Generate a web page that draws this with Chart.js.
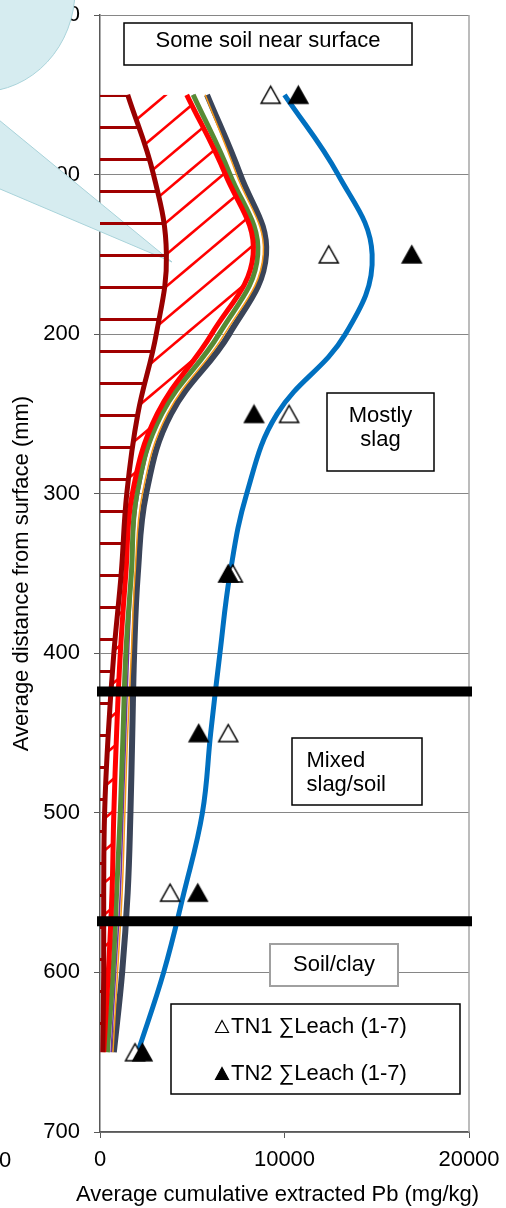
<!DOCTYPE html>
<html>
<head>
<meta charset="utf-8">
<script src="https://cdn.jsdelivr.net/npm/chart.js@4/dist/chart.umd.min.js"></script>
<style>
    html, body { margin: 0; padding: 0; background: #fff; }
    #grafico { display: block; }
</style>
</head>
<body>
<canvas id="grafico" width="506" height="1208"></canvas>
<script>
// Profundidades (mm) das curvas suavizadas
const curveDepths = [50, 100, 150, 200, 250, 300, 350, 400, 450, 500, 550, 600, 650];

const darkRedPb = [1500, 2900, 3600, 3050, 2050, 1450, 1150, 750, 450, 250, 200, 200, 150];
const redPb     = [4700, 6800, 8300, 6050, 3100, 1750, 1400, 1100, 900, 750, 650, 450, 200];
const greenPb   = [5050, 7050, 8550, 6450, 3350, 2000, 1700, 1400, 1250, 1100, 900, 700, 400];
const purplePb  = [5050, 7050, 8550, 6450, 3400, 2100, 1750, 1550, 1400, 1250, 1100, 850, 600];
const orangePb  = [5700, 7400, 8850, 6750, 3650, 2300, 1900, 1700, 1500, 1350, 1200, 950, 700];
const slatePb   = [5800, 7600, 9000, 7000, 3850, 2500, 2050, 1850, 1750, 1650, 1500, 1200, 750];
const bluePb    = [10000, 12900, 14750, 13300, 9600, 7950, 7050, 6500, 6000, 5550, 4550, 3450, 2050];

// Amostras TN1 / TN2
const sampleDepths = [50, 150, 250, 350, 450, 550, 650];
const tn1Leach = [9250, 12400, 10250, 7200, 6950, 3800, 1900];
const tn2Leach = [10750, 16900, 8350, 6950, 5350, 5300, 2300];
const tn1Label = 'TN1 \u2211Leach (1-7)';
const tn2Label = 'TN2 \u2211Leach (1-7)';

// Limites das camadas (mm)
const layerBoundaries = [424, 568];

const xRange = [0, 20000];
const yRange = [0, 700];
const xTitle = 'Average cumulative extracted Pb (mg/kg)';
const yTitle = 'Average distance from surface (mm)';

const FONT = '"Liberation Sans", Arial, sans-serif';

const canvas = document.getElementById('grafico');
const mainCtx = canvas.getContext('2d');

function toPoints(values, depths) {
    return values.map((v, i) => ({ x: v, y: depths[i] }));
}

/**
 * Padrão de linhas horizontais (área entre o eixo e a curva vermelho-escura).
 */
function horizontalHatch(color) {
    const tile = document.createElement('canvas');
    tile.width = 4;
    tile.height = 32;
    const t = tile.getContext('2d');
    t.fillStyle = color;
    t.fillRect(0, 30, 4, 2);
    t.fillRect(0, 0, 4, 1);
    return mainCtx.createPattern(tile, 'repeat');
}

/**
 * Padrão de linhas diagonais (área entre as curvas vermelho-escura e vermelha).
 */
function diagonalHatch(color) {
    const w = 38, h = 32, c0 = 10.5;
    const tile = document.createElement('canvas');
    tile.width = w;
    tile.height = h;
    const t = tile.getContext('2d');
    t.strokeStyle = color;
    t.lineWidth = 2.5;
    for (let k = -1; k <= 2; k++) {
        t.beginPath();
        t.moveTo(-2, c0 + k * h + 2 * h / w);
        t.lineTo(w + 2, c0 + k * h - (w + 2) * h / w);
        t.stroke();
    }
    return mainCtx.createPattern(tile, 'repeat');
}

function trianglePath(ctx, cx, cy, w, h) {
    ctx.beginPath();
    ctx.moveTo(cx, cy - h / 2);
    ctx.lineTo(cx + w / 2, cy + h / 2);
    ctx.lineTo(cx - w / 2, cy + h / 2);
    ctx.closePath();
}

function triangleMarker(w, h, filled) {
    const c = document.createElement('canvas');
    c.width = Math.ceil(w + 4);
    c.height = Math.ceil(h + 4);
    const ctx = c.getContext('2d');
    trianglePath(ctx, c.width / 2, c.height / 2, w, h);
    ctx.fillStyle = filled ? '#000' : '#fff';
    ctx.fill();
    ctx.lineWidth = 1.5;
    ctx.strokeStyle = '#000';
    ctx.stroke();
    return c;
}

const openTri = triangleMarker(19, 17, false);
const filledTri = triangleMarker(19, 17, true);

// Caixas de texto sobre o gráfico (pixels)
const notes = [
    { box: [124, 23, 288, 42], lines: ['Some soil near surface'], align: 'center', x: 268, base: 47, gap: 0, border: '#000' },
    { box: [327, 393, 107, 78], lines: ['Mostly', 'slag'], align: 'center', x: 380.5, base: 422, gap: 24, border: '#000' },
    { box: [292, 738, 130, 67], lines: ['Mixed', 'slag/soil'], align: 'left', x: 306.5, base: 767, gap: 23.5, border: '#000' },
    { box: [270, 944, 128, 42], lines: ['Soil/clay'], align: 'center', x: 334, base: 971, gap: 0, border: '#a0a0a0' }
];
const legendBox = [171, 1004, 289, 90];

const decorPlugin = {
    id: 'decor',
    beforeDatasetsDraw(chart) {
        const ctx = chart.ctx;
        const a = chart.chartArea;
        ctx.save();

        // borda direita da área de plotagem
        ctx.strokeStyle = '#a6a6a6';
        ctx.lineWidth = 1.5;
        ctx.beginPath();
        ctx.moveTo(a.right, a.top);
        ctx.lineTo(a.right, a.bottom);
        ctx.stroke();

        // balão (callout) azul claro
        ctx.fillStyle = '#d6ecf0';
        ctx.strokeStyle = '#a9d3da';
        ctx.lineWidth = 1;
        ctx.beginPath();
        ctx.ellipse(-20, -10, 95, 102, 0, 0, Math.PI * 2);
        ctx.fill();
        ctx.stroke();
        ctx.beginPath();
        ctx.moveTo(-40, 88);
        ctx.lineTo(172, 262);
        ctx.lineTo(-40, 172);
        ctx.closePath();
        ctx.fill();
        ctx.beginPath();
        ctx.moveTo(-40, 88);
        ctx.lineTo(172, 262);
        ctx.lineTo(-40, 172);
        ctx.stroke();
        ctx.restore();
    },
    afterDraw(chart) {
        const ctx = chart.ctx;
        const a = chart.chartArea;
        ctx.save();
        ctx.font = `22px ${FONT}`;
        ctx.textBaseline = 'alphabetic';

        // título do eixo X (sem compressão para a largura do eixo)
        ctx.fillStyle = '#000';
        ctx.textAlign = 'center';
        ctx.fillText(xTitle, (a.left + a.right) / 2 - 7, 1201);

        notes.forEach(n => {
            const [x, y, w, h] = n.box;
            ctx.fillStyle = '#fff';
            ctx.fillRect(x, y, w, h);
            ctx.strokeStyle = n.border;
            ctx.lineWidth = n.border === '#000' ? 1.5 : 2;
            ctx.strokeRect(x, y, w, h);
            ctx.fillStyle = '#000';
            ctx.textAlign = n.align;
            n.lines.forEach((t, i) => ctx.fillText(t, n.x, n.base + i * n.gap));
        });

        // legenda
        const [lx, ly, lw, lh] = legendBox;
        ctx.fillStyle = '#fff';
        ctx.fillRect(lx, ly, lw, lh);
        ctx.strokeStyle = '#000';
        ctx.lineWidth = 1.5;
        ctx.strokeRect(lx, ly, lw, lh);
        const rows = [
            { label: chart.data.datasets[7].label, filled: false, base: 1033 },
            { label: chart.data.datasets[8].label, filled: true, base: 1080 }
        ];
        rows.forEach(r => {
            trianglePath(ctx, 222, r.base - 6.5, 13, 12);
            ctx.fillStyle = r.filled ? '#000' : '#fff';
            ctx.fill();
            ctx.strokeStyle = '#000';
            ctx.lineWidth = 1.2;
            ctx.stroke();
            ctx.fillStyle = '#000';
            ctx.textAlign = 'left';
            ctx.fillText(r.label, 231, r.base);
        });

        // rótulo "0" do gráfico vizinho, cortado na margem
        ctx.fillText('0', -1, 1167);
        ctx.restore();
    }
};

function curve(label, values, color, width, order, extra) {
    return Object.assign({
        label: label,
        data: toPoints(values, curveDepths),
        borderColor: color,
        borderWidth: width,
        pointRadius: 0,
        tension: 0.4,
        fill: false,
        order: order
    }, extra || {});
}

function criarGrafico() {
    const datasets = [
        curve('Curve A', darkRedPb, '#990000', 5, 4, { fill: 'origin', backgroundColor: horizontalHatch('#a00000') }),
        curve('Curve B', redPb, '#ff0000', 5, 5, { fill: '-1', backgroundColor: diagonalHatch('#ff0000') }),
        curve('Curve C', greenPb, '#578a35', 5, 6),
        curve('Curve D', purplePb, '#7030a0', 1.5, 7),
        curve('Curve E', orangePb, '#f79a1a', 1.5, 8),
        curve('Curve F', slatePb, '#3a4458', 6, 9),
        curve('Curve G', bluePb, '#0070c0', 5, 3),
        {
            label: tn1Label,
            data: toPoints(tn1Leach, sampleDepths),
            showLine: false,
            pointStyle: openTri,
            pointRadius: 10,
            order: 2
        },
        {
            label: tn2Label,
            data: toPoints(tn2Leach, sampleDepths),
            showLine: false,
            pointStyle: filledTri,
            pointRadius: 10,
            order: 1
        }
    ];

    layerBoundaries.forEach(d => {
        datasets.push({
            label: 'Boundary ' + d,
            data: [{ x: xRange[0], y: d }, { x: xRange[1], y: d }],
            borderColor: '#000',
            borderWidth: 10,
            borderCapStyle: 'square',
            pointRadius: 0,
            tension: 0,
            fill: false,
            clip: 3,
            order: 0
        });
    });

    const tickFont = { family: FONT, size: 22 };

    new Chart(canvas, {
        type: 'line',
        data: { datasets: datasets },
        options: {
            indexAxis: 'y',
            responsive: false,
            animation: false,
            events: [],
            layout: { padding: { top: 15, right: 37, left: 0, bottom: 0 } },
            plugins: {
                legend: { display: false },
                tooltip: { enabled: false }
            },
            scales: {
                x: {
                    type: 'linear',
                    position: 'bottom',
                    min: xRange[0],
                    max: xRange[1],
                    ticks: { stepSize: 10000, padding: 9, color: '#000', font: tickFont, maxRotation: 0, callback: v => String(v) },
                    grid: { drawOnChartArea: false, tickLength: 6, tickColor: '#595959' },
                    border: { color: '#595959', width: 1.5 },
                    title: { display: false },
                    afterFit: s => {
                        s.height = 76;
                        s.paddingLeft = 0;
                        s.paddingRight = 0;
                    }
                },
                y: {
                    type: 'linear',
                    position: 'left',
                    reverse: true,
                    min: yRange[0],
                    max: yRange[1],
                    ticks: { stepSize: 100, padding: 14, color: '#000', font: tickFont, callback: v => String(v) },
                    grid: { color: '#868686', lineWidth: 1, tickLength: 6, tickColor: '#595959' },
                    border: { color: '#595959', width: 1.5 },
                    title: { display: true, text: yTitle, color: '#000', font: tickFont, padding: { top: 9, bottom: 0 } },
                    afterFit: s => {
                        s.width = 100;
                        s.paddingTop = 0;
                        s.paddingBottom = 0;
                    }
                }
            }
        },
        plugins: [decorPlugin]
    });
}

if (document.fonts && document.fonts.load) {
    document.fonts.load(`22px ${FONT}`).then(criarGrafico, criarGrafico);
} else {
    criarGrafico();
}
</script>
</body>
</html>
